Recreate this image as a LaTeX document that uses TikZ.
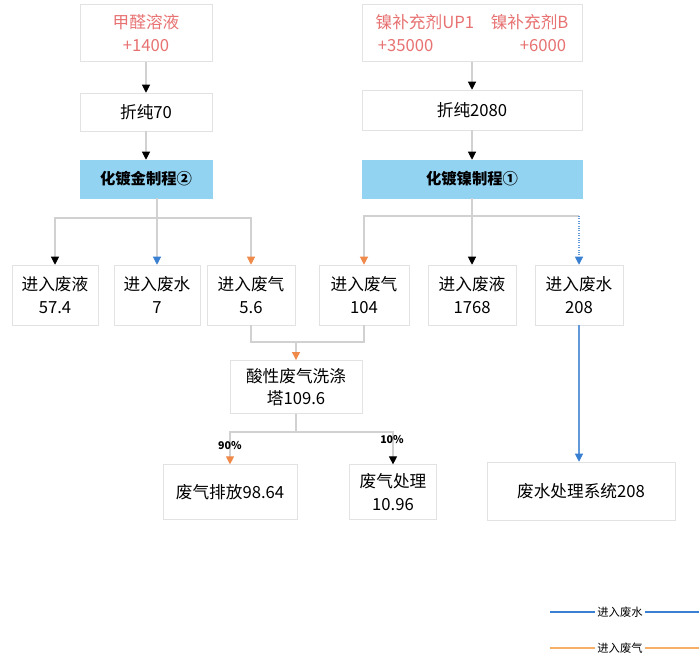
\documentclass[tikz,border=0pt]{standalone}
\usepackage{fontspec}
\setmainfont{Noto Sans CJK SC}
\usetikzlibrary{arrows.meta}
\definecolor{boxline}{HTML}{E2E2E2}
\definecolor{procblue}{HTML}{92D3F2}
\definecolor{inred}{HTML}{E87272}
\definecolor{gasorange}{HTML}{F08A4B}
\definecolor{waterblue}{HTML}{3A80D2}
\definecolor{lgorange}{HTML}{F7AE66}

\begin{document}
\begin{tikzpicture}[x=0.75pt,y=-0.75pt]
      \tikzstyle{every node}+=[inner sep=0pt]
      \tikzstyle{box}=[draw=boxline, fill=white, align=center, font=\fontsize{12.5}{17}\selectfont]
      \tikzstyle{proc}=[box, fill=procblue, draw=procblue, font=\fontsize{11.5}{15}\selectfont\bfseries]
      \tikzstyle{line}=[draw=black!18, line width=0.8pt]
      \tikzstyle{wline}=[draw=waterblue!80, line width=0.8pt]
      \tikzstyle{tipk}=[-{Triangle[color=black, length=6pt, width=6pt]}]
      \tikzstyle{tipo}=[-{Triangle[color=gasorange, length=6pt, width=6pt]}]
      \tikzstyle{tipw}=[-{Triangle[color=waterblue, length=6pt, width=6pt]}]
      \useasboundingbox (0,0) rectangle (699,657);
      % inputs and process
      \node [box, minimum width=99pt, minimum height=42.75pt, text=inred] (jq) at (146,33) {甲醛溶液\\+1400};
      \node [box, minimum width=99pt, minimum height=28.5pt] (zc70) at (146,112) {折纯70};
      \node [proc, minimum width=99pt, minimum height=28.5pt] (hj) at (146,179) {化镀金制程②};
      \node [box, minimum width=165pt, minimum height=42.75pt, text=inred] (nb) at (472,33) {镍补充剂UP1\quad 镍补充剂B\\+35000\hspace{5.2em}+6000};
      \node [box, minimum width=165pt, minimum height=30pt] (zc2080) at (472,110) {折纯2080};
      \node [proc, minimum width=165pt, minimum height=28.5pt] (hn) at (472,179) {化镀镍制程①};
      % outputs
      \node [box, minimum width=64.5pt, minimum height=45pt] (fy1) at (55,295) {进入废液\\57.4};
      \node [box, minimum width=64.5pt, minimum height=45pt] (fs1) at (157,295) {进入废水\\7};
      \node [box, minimum width=66pt, minimum height=45pt] (fq1) at (251,295) {进入废气\\5.6};
      \node [box, minimum width=67.5pt, minimum height=45pt] (fq2) at (364,295) {进入废气\\104};
      \node [box, minimum width=66pt, minimum height=45pt] (fy2) at (472,295) {进入废液\\1768};
      \node [box, minimum width=66pt, minimum height=45pt] (fs2) at (579,295) {进入废水\\208};
      \node [box, minimum width=99pt, minimum height=40pt] (xdt) at (296,387) {酸性废气洗涤\\塔109.6};
      \node [box, minimum width=100.5pt, minimum height=41pt] (pf) at (230,492) {废气排放98.64};
      \node [box, minimum width=65pt, minimum height=41pt] (cl) at (393,492) {废气处理\\10.96};
      \node [box, minimum width=141pt, minimum height=43.5pt] (fscl) at (581,491) {废水处理系统208};
      % junctions
      \coordinate (jl) at (157,218);
      \coordinate (jr) at (472,216);
      \coordinate (jg) at (296,342);
      \coordinate (js) at (296,432);
      % connectors
      \draw [line, tipk] (jq) -- (zc70);
      \draw [line, tipk] (zc70) -- (hj);
      \draw [line, tipk] (nb) -- (zc2080);
      \draw [line, tipk] (zc2080) -- (hn);
      \draw [line, tipw] (hj.south -| fs1) -- (fs1.north);
      \draw [line, tipk] (jl) -| (fy1.north);
      \draw [line, tipo] (jl) -| (fq1.north);
      \draw [line, tipk] (hn.south) -- (fy2.north);
      \draw [line, tipo] (jr) -| (fq2.north);
      \draw [line] (jr) -- (jr -| fs2);
      \draw [wline, densely dotted, tipw] (jr -| fs2) -- (fs2.north);
      \draw [line] (fq1.south) |- (jg);
      \draw [line] (fq2.south) |- (jg);
      \draw [line, tipo] (jg) -- (xdt.north);
      \draw [line] (xdt.south) -- (js);
      \draw [line, tipo] (js) -| (pf.north);
      \draw [line, tipk] (js) -| (cl.north);
      \draw [wline, tipw] (fs2.south) -- (fs2.south |- fscl.north);
      \node [font=\fontsize{8}{9}\selectfont\bfseries] (p90) at (230,446) {90\%};
      \node [font=\fontsize{8}{9}\selectfont\bfseries] (p10) at (392,440) {10\%};
      % legend
      \coordinate (lw1) at (550,612);
      \coordinate (lw2) at (699,612);
      \coordinate (lg1) at (550,648);
      \coordinate (lg2) at (699,648);
      \draw [draw=waterblue, line width=1.2pt] (lw1) -- (lw2);
      \draw [draw=lgorange, line width=1.2pt] (lg1) -- (lg2);
      \node [fill=white, inner xsep=2pt, font=\fontsize{8.5}{10}\selectfont] (lwt) at (620,612) {进入废水};
      \node [fill=white, inner xsep=2pt, font=\fontsize{8.5}{10}\selectfont] (lgt) at (620,648) {进入废气};
    \end{tikzpicture}
\end{document}
